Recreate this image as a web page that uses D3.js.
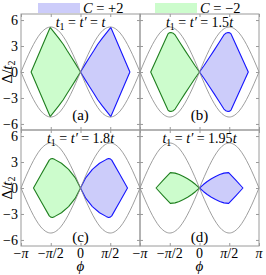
<!DOCTYPE html>
<html>
<head>
<meta charset="utf-8">
<script src="https://cdn.jsdelivr.net/npm/d3@7"></script>
<style>
  body { margin: 0; background: #fff; }
  text { font-family: "Liberation Serif", "DejaVu Serif", serif; fill: #000; }
</style>
</head>
<body>
<div id="graph"></div>
<script>
// ticks (phi in units of pi)
var phiTicks = [-1, -0.5, 0, 0.5, 1]
var phiTickLabels = [["−", "π"], ["−", "π", "/2"], ["0"], ["π", "/2"], ["π"]]
var deltaTicks = [-6, -3, 0, 3, 6]

// panel titles t1 = t' = ...
var hopping = ["", "1.5", "1.8", "1.95"]
var tags = ["(a)", "(b)", "(c)", "(d)"]

// gray Haldane boundary
var grayPhi = [-1, -0.917, -0.833, -0.75, -0.667, -0.583, -0.5, -0.417, -0.333, -0.25, -0.167, -0.083, 0,
  0.083, 0.167, 0.25, 0.333, 0.417, 0.5, 0.583, 0.667, 0.75, 0.833, 0.917, 1]
var grayUpper = [0, 1.35, 2.6, 3.67, 4.5, 5.02, 5.2, 5.02, 4.5, 3.67, 2.6, 1.35, 0,
  1.35, 2.6, 3.67, 4.5, 5.02, 5.2, 5.02, 4.5, 3.67, 2.6, 1.35, 0]
var grayLower = [0, -1.35, -2.6, -3.67, -4.5, -5.02, -5.2, -5.02, -4.5, -3.67, -2.6, -1.35, 0,
  -1.35, -2.6, -3.67, -4.5, -5.02, -5.2, -5.02, -4.5, -3.67, -2.6, -1.35, 0]

// C = -2 regions (green), [phi/pi, delta/t2]
var greenA = [[-0.83,0],[-0.67,2.58],[-0.51,5.15],[-0.44,4.55],[-0.37,3.95],[-0.29,3.2],[-0.22,2.42],[-0.15,1.68],[-0.075,0.85],[0,0],
  [-0.075,-0.85],[-0.15,-1.68],[-0.22,-2.42],[-0.29,-3.2],[-0.37,-3.95],[-0.44,-4.55],[-0.51,-5.15],[-0.67,-2.58]]
var greenB = [[-0.82,0],[-0.675,2.2],[-0.53,4.4],[-0.51,4.52],[-0.48,4.56],[-0.44,4.47],[-0.41,4.28],[-0.33,3.4],[-0.245,2.5],[-0.16,1.62],[-0.08,0.78],[0,0],
  [-0.08,-0.78],[-0.16,-1.62],[-0.245,-2.5],[-0.33,-3.4],[-0.41,-4.28],[-0.44,-4.47],[-0.48,-4.56],[-0.51,-4.52],[-0.53,-4.4],[-0.675,-2.2]]
var greenC = [[-0.79,0],[-0.66,1.6],[-0.525,3.22],[-0.5,3.36],[-0.47,3.4],[-0.43,3.28],[-0.32,2.86],[-0.2,2.15],[-0.09,1.2],[0,0],
  [-0.09,-1.2],[-0.2,-2.15],[-0.32,-2.86],[-0.43,-3.28],[-0.47,-3.4],[-0.5,-3.36],[-0.525,-3.22],[-0.66,-1.6]]
var greenD = [[-0.73,0],[-0.61,0.9],[-0.49,1.78],[-0.41,1.72],[-0.34,1.55],[-0.27,1.32],[-0.2,1.06],[-0.13,0.75],[-0.065,0.4],[0,0],
  [-0.065,-0.4],[-0.13,-0.75],[-0.2,-1.06],[-0.27,-1.32],[-0.34,-1.55],[-0.41,-1.72],[-0.49,-1.78],[-0.61,-0.9]]

// C = +2 regions (blue)
var blueA = [[0.83,0],[0.67,2.58],[0.51,5.15],[0.44,4.55],[0.37,3.95],[0.29,3.2],[0.22,2.42],[0.15,1.68],[0.075,0.85],[0,0],
  [0.075,-0.85],[0.15,-1.68],[0.22,-2.42],[0.29,-3.2],[0.37,-3.95],[0.44,-4.55],[0.51,-5.15],[0.67,-2.58]]
var blueB = [[0.82,0],[0.675,2.2],[0.53,4.4],[0.51,4.52],[0.48,4.56],[0.44,4.47],[0.41,4.28],[0.33,3.4],[0.245,2.5],[0.16,1.62],[0.08,0.78],[0,0],
  [0.08,-0.78],[0.16,-1.62],[0.245,-2.5],[0.33,-3.4],[0.41,-4.28],[0.44,-4.47],[0.48,-4.56],[0.51,-4.52],[0.53,-4.4],[0.675,-2.2]]
var blueC = [[0.79,0],[0.66,1.6],[0.525,3.22],[0.5,3.36],[0.47,3.4],[0.43,3.28],[0.32,2.86],[0.2,2.15],[0.09,1.2],[0,0],
  [0.09,-1.2],[0.2,-2.15],[0.32,-2.86],[0.43,-3.28],[0.47,-3.4],[0.5,-3.36],[0.525,-3.22],[0.66,-1.6]]
var blueD = [[0.73,0],[0.61,0.9],[0.49,1.78],[0.41,1.72],[0.34,1.55],[0.27,1.32],[0.2,1.06],[0.13,0.75],[0.065,0.4],[0,0],
  [0.065,-0.4],[0.13,-0.75],[0.2,-1.06],[0.27,-1.32],[0.34,-1.55],[0.41,-1.72],[0.49,-1.78],[0.61,-0.9]]

var greens = [greenA, greenB, greenC, greenD]
var blues = [blueA, blueB, blueC, blueD]

//layout
var W = 266, H = 275
var left0 = 21, top0 = 14, panelW = 119, panelH = 116

var svg = d3.select("#graph").append("svg")
  .attr("width", W).attr("height", H)

svg.append("rect").attr("width", W).attr("height", H).attr("fill", "#fff")

// legend
var legend = [["C", " = +2", "#ccccfa", 38], ["C", " = −2", "#ccfccc", 155]]
legend.forEach(function(l) {
  svg.append("rect").attr("x", l[3]).attr("y", 3).attr("width", 42).attr("height", 10).attr("fill", l[2])
  var t = svg.append("text").attr("x", l[3] + 45).attr("y", 12.5).style("font-size", "14.5px")
  t.append("tspan").style("font-style", "italic").text(l[0])
  t.append("tspan").text(l[1])
})

var grayLine = d3.line().curve(d3.curveMonotoneX)

for (var k = 0; k < 4; k++) {
  var row = Math.floor(k / 2), col = k % 2
  var x0 = left0 + col * panelW, y0 = top0 + row * panelH

  var x = d3.scaleLinear().domain([-1, 1]).range([x0, x0 + panelW])
  var y = d3.scaleLinear().domain([-6.7, 6.7]).range([y0 + panelH, y0])

  var g = svg.append("g")

  var poly = d3.line().x(function(d){ return x(d[0]) }).y(function(d){ return y(d[1]) }).curve(d3.curveLinearClosed)

  // regions
  g.append("path").attr("d", poly(greens[k])).attr("fill", "#ccfccc").attr("stroke", "#1f7f1f").attr("stroke-width", 1.1).attr("stroke-linejoin", "round")
  g.append("path").attr("d", poly(blues[k])).attr("fill", "#ccccfa").attr("stroke", "#1515ff").attr("stroke-width", 1.1).attr("stroke-linejoin", "round")

  // gray boundaries, one hump at a time
  ;[grayUpper, grayLower].forEach(function(vals) {
    [[0, 13], [12, 25]].forEach(function(r) {
      var pts = []
      for (var i = r[0]; i < r[1]; i++) pts.push([x(grayPhi[i]), y(vals[i])])
      g.append("path").attr("d", grayLine(pts)).attr("fill", "none").attr("stroke", "#858585").attr("stroke-width", 0.8)
    })
  })

  // frame
  g.append("rect").attr("x", x0).attr("y", y0).attr("width", panelW).attr("height", panelH)
    .attr("fill", "none").attr("stroke", "#9a9a9a").attr("stroke-width", 1)

  // inward ticks on all sides
  var yl = g.append("g").attr("transform", "translate(" + x0 + ",0)")
    .call(d3.axisLeft(y).tickValues(deltaTicks).tickSize(-3).tickPadding(3)
      .tickFormat(function(d){ return d < 0 ? "−" + (-d) : d }))
  var yr = g.append("g").attr("transform", "translate(" + (x0 + panelW) + ",0)")
    .call(d3.axisRight(y).tickValues(deltaTicks).tickSize(-3).tickFormat(""))
  var xt = g.append("g").attr("transform", "translate(0," + y0 + ")")
    .call(d3.axisTop(x).tickValues(phiTicks).tickSize(-3).tickFormat(""))
  var xb = g.append("g").attr("transform", "translate(0," + (y0 + panelH) + ")")
    .call(d3.axisBottom(x).tickValues(phiTicks).tickSize(-3).tickFormat(""))

  ;[yl, yr, xt, xb].forEach(function(a) {
    a.select(".domain").remove()
    a.selectAll(".tick line").attr("stroke", "#9a9a9a")
  })
  yl.selectAll(".tick text").style("font-size", "14px").attr("font-family", null)
  if (col !== 0) yl.selectAll(".tick text").remove()

  // x tick labels on bottom row
  if (row === 1) {
    phiTicks.forEach(function(p, i) {
      if (col === 0 && p === 1) return
      var t = svg.append("text").attr("x", x(p)).attr("y", 257.5).attr("text-anchor", "middle").style("font-size", "14px")
      phiTickLabels[i].forEach(function(s) {
        t.append("tspan").style("font-style", s === "π" ? "italic" : "normal").text(s)
      })
    })
    svg.append("text").attr("x", x(0)).attr("y", 270.5).attr("text-anchor", "middle")
      .style("font-size", "15px").style("font-style", "italic").text("ϕ")
  }

  // y label
  if (col === 0) {
    var yt = svg.append("text").attr("transform", "translate(12," + y(0) + ") rotate(-90)")
      .attr("text-anchor", "middle").style("font-size", "15px")
    yt.append("tspan").text("Δ/")
    yt.append("tspan").style("font-style", "italic").text("t")
    yt.append("tspan").attr("dy", 3).style("font-size", "10px").text("2")
  }

  // panel title
  var tt = svg.append("text").attr("x", x(0)).attr("y", y0 + 12.5).attr("text-anchor", "middle").style("font-size", "14px")
  tt.append("tspan").style("font-style", "italic").text("t")
  tt.append("tspan").attr("dy", 3).style("font-size", "10px").text("1")
  tt.append("tspan").attr("dy", -3).text(" = ")
  tt.append("tspan").style("font-style", "italic").text("t′")
  tt.append("tspan").text(" = " + hopping[k])
  tt.append("tspan").style("font-style", "italic").text("t")

  // panel tag
  svg.append("text").attr("x", x(0)).attr("y", row === 0 ? y0 + 106 : y0 + 112)
    .attr("text-anchor", "middle").style("font-size", "15px").text(tags[k])
}
</script>
</body>
</html>
